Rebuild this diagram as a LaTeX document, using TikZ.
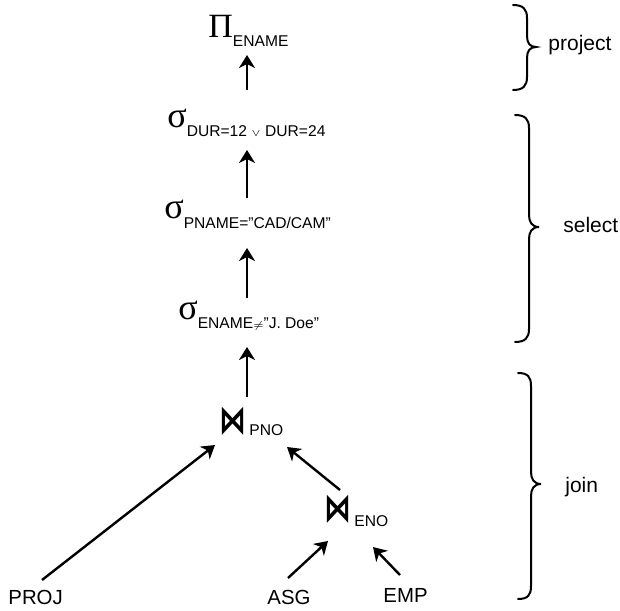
\documentclass[tikz,border=0pt]{standalone}
\usepackage{fontspec}
\setmainfont{Liberation Sans}
\newfontfamily\gkfont{Liberation Serif}
\newfontfamily\symfont{DejaVu Sans}
\usetikzlibrary{arrows.meta,calc}
\newcommand\subtx[2]{\raisebox{-#1}{\fontsize{7.8}{8}\selectfont #2}}
\newcommand\gkP{{\gkfont\fontsize{17}{17}\selectfont Π}}
\newcommand\gks{{\gkfont\fontsize{18}{18}\selectfont σ}}
\newcommand\bwt{\raisebox{-0.5pt}{\scalebox{0.9}[1.3]{\symfont\bfseries\fontsize{15}{15}\selectfont ⋈}}}
\begin{document}
\begin{tikzpicture}[x=0.5pt,y=-0.5pt,
  op/.style={anchor=base west, inner sep=0pt},
  leaf/.style={anchor=base west, inner sep=0pt, font=\fontsize{10.2}{12}\selectfont},
  lab/.style={anchor=base west, inner sep=0pt, font=\fontsize{10.5}{12}\selectfont},
  arr/.style={line width=1.2pt, -{Stealth[length=6.5pt,width=8pt,inset=2pt]}},
  br/.style={line width=1pt, line cap=round}]
\useasboundingbox (0,0) rectangle (620,610);
% operator nodes
\node[op] (pi) at (208,38) {\gkP\subtx{4.5pt}{ENAME}};
\node[op] (s1) at (167,127) {\gks\subtx{4.5pt}{DUR=12 $\scriptstyle\vee$ DUR=24}};
\node[op] (s2) at (164,218) {\gks\subtx{5pt}{PNAME=”CAD/CAM”}};
\node[op] (s3) at (178,319) {\gks\subtx{4.5pt}{ENAME$\scriptstyle\neq$”J. Doe”}};
\node[op] (j1) at (219,432) {\bwt\hspace{1.5pt}\subtx{1.5pt}{PNO}};
\node[op] (j2) at (324,520) {\bwt\hspace{1.5pt}\subtx{3pt}{ENO}};
% leaves
\node[leaf] (proj) at (8,604) {PROJ};
\node[leaf] (asg) at (267,604) {ASG};
\node[leaf] (emp) at (383,602) {EMP};
% vertical axis
\coordinate (ax) at (247,0);
\draw[arr] ($(s1.base -| ax)+(0,-37)$) -- ($(pi.base -| ax)+(0,17)$);
\draw[arr] ($(s2.base -| ax)+(0,-20)$) -- ($(s1.base -| ax)+(0,23)$);
\draw[arr] ($(s3.base -| ax)+(0,-21)$) -- ($(s2.base -| ax)+(0,30)$);
\draw[arr] ($(j1.base -| ax)+(0,-35)$) -- ($(s3.base -| ax)+(0,28)$);
% diagonal arrows
\draw[arr] ($(proj.base west)+(34,-24)$) -- ($(j1.base west)+(-4,13)$);
\draw[arr] ($(j2.base west)+(16,-30)$) -- ($(j1.base west)+(68,15)$);
\draw[arr] ($(asg.base west)+(21,-26)$) -- ($(j2.base west)+(4,21)$);
\draw[arr] ($(emp.base west)+(17,-27)$) -- ($(j2.base west)+(49,27)$);
% braces
\draw[br] (513,5) .. controls (523,5) and (527,9) .. (527,18) -- (527,36) .. controls (527,43) and (530,47) .. (536,47) .. controls (530,47) and (527,51) .. (527,58) -- (527,77) .. controls (527,86) and (523,90) .. (513,90);
\draw[br] (515,115) .. controls (525,115) and (529,119) .. (529,128) -- (529,215) .. controls (529,222) and (532,227) .. (539,227) .. controls (532,227) and (529,232) .. (529,239) -- (529,329) .. controls (529,338) and (525,342) .. (515,342);
\draw[br] (518,373) .. controls (528,373) and (531,377) .. (531,386) -- (531,472) .. controls (531,479) and (534,484) .. (541,484) .. controls (534,484) and (531,489) .. (531,496) -- (531,586) .. controls (531,595) and (528,599) .. (518,599);
% labels
\node[lab] (lproj) at (548,51) {project};
\node[lab] (lsel) at (563,232) {select};
\node[lab] (ljoin) at (565,492) {join};
\end{tikzpicture}
\end{document}
